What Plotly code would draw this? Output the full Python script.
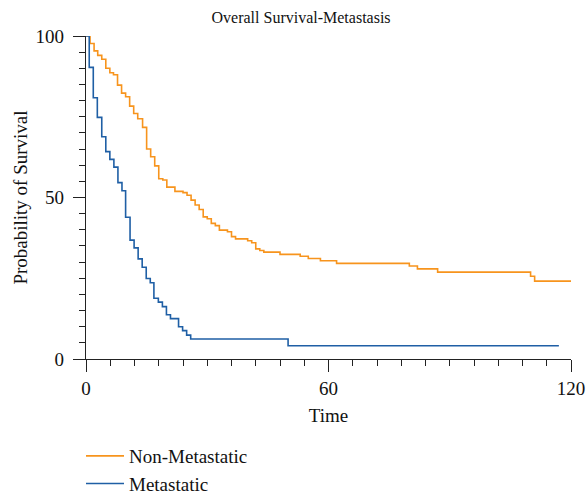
import plotly.graph_objects as go

# Non-Metastatic survival curve (time, % surviving)
non_met_time = [0, 1, 2, 2.9, 3.9, 4.9, 5.9, 6.8, 7.8, 8.8, 9.8, 10.8, 11.8, 12.8, 14, 15, 16, 17, 18, 19,
                20, 22, 24, 25, 26, 27, 28, 29, 30, 31, 32, 33, 35, 36, 37, 40, 41, 42, 43, 44,
                48, 53, 55, 58, 62, 80, 82, 87, 110, 111, 120]
non_met_surv = [100, 97.7, 95.4, 94, 92.8, 90, 88.6, 88, 84.8, 82.3, 81.2, 78.3, 76, 74.4, 71.7, 65, 62.6, 59.8, 55.8, 55.4,
                53.2, 51.9, 51.5, 50.7, 49.2, 47.7, 46.3, 44, 43.4, 42, 41.3, 39.9, 39.4, 37.9, 37.2, 36.6, 36, 34.1, 33.6, 33.1,
                32.4, 31.8, 31.1, 30.4, 29.6, 28.8, 27.9, 26.9, 25.6, 24.1, 24.1]

# Metastatic survival curve
met_time = [0, 0.8, 1.8, 2.8, 3.9, 4.9, 5.9, 6.9, 7.9, 8.9, 9.8, 10.9, 11.9, 12.9, 13.9, 14.9, 15.9, 16.8, 17.9, 18.9,
            19.9, 20.9, 22.9, 23.9, 24.9, 25.9, 50, 117]
met_surv = [100, 90.3, 80.9, 74.8, 68.8, 64.2, 61.8, 59.4, 54.6, 52.1, 43.9, 36.8, 34.4, 31, 28.4, 24.9, 23.6, 18.8, 17.6, 16.2,
            13.7, 12.5, 10, 8.8, 7.4, 6.2, 4.1, 4.1]

FONT = "Liberation Serif"
ORANGE = "#F7941D"
BLUE = "#1F5FA5"

fig = go.Figure()
fig.add_trace(go.Scatter(x=non_met_time, y=non_met_surv, mode="lines", line_shape="hv",
                         line=dict(color=ORANGE, width=1.6), name="Non-Metastatic", cliponaxis=False))
fig.add_trace(go.Scatter(x=met_time, y=met_surv, mode="lines", line_shape="hv",
                         line=dict(color=BLUE, width=1.6), name="Metastatic", cliponaxis=False))

axis_common = dict(showline=True, linecolor="#222", linewidth=1.2, ticks="outside", tickcolor="#222",
                   tickwidth=1.2, ticklen=12, showgrid=False, zeroline=False, automargin=False,
                   tickfont=dict(family=FONT, size=19, color="#111"))

fig.update_layout(
    width=588, height=494,
    margin=dict(l=86, r=17, t=36, b=135, autoexpand=False),
    paper_bgcolor="white", plot_bgcolor="white",
    title=dict(text="Overall Survival-Metastasis", x=0.512, xanchor="center", y=0.964, yanchor="middle",
               font=dict(family=FONT, size=16, color="#111")),
    xaxis=dict(range=[0, 120], tickvals=[0, 60, 120],
               minor=dict(dtick=6, ticklen=6, tickcolor="#222", ticks="outside", tickwidth=1.2),
               title=dict(text="Time", font=dict(family=FONT, size=19, color="#111"), standoff=10),
               **axis_common),
    yaxis=dict(range=[0, 100], tickvals=[0, 50, 100], ticklabelstandoff=5,
               minor=dict(dtick=5, ticklen=6, tickcolor="#222", ticks="outside", tickwidth=1.2),
               title=dict(text="Probability of Survival", font=dict(family=FONT, size=19, color="#111"), standoff=2),
               **axis_common),
    legend=dict(x=-5 / 485, xanchor="left", y=-78 / 323, yanchor="top", orientation="v", itemwidth=38,
                font=dict(family=FONT, size=19, color="#111"), bgcolor="rgba(0,0,0,0)"),
    showlegend=True,
)

fig.write_html("out.html", config={"displayModeBar": False},
               post_script="document.body.style.margin='0px';")
